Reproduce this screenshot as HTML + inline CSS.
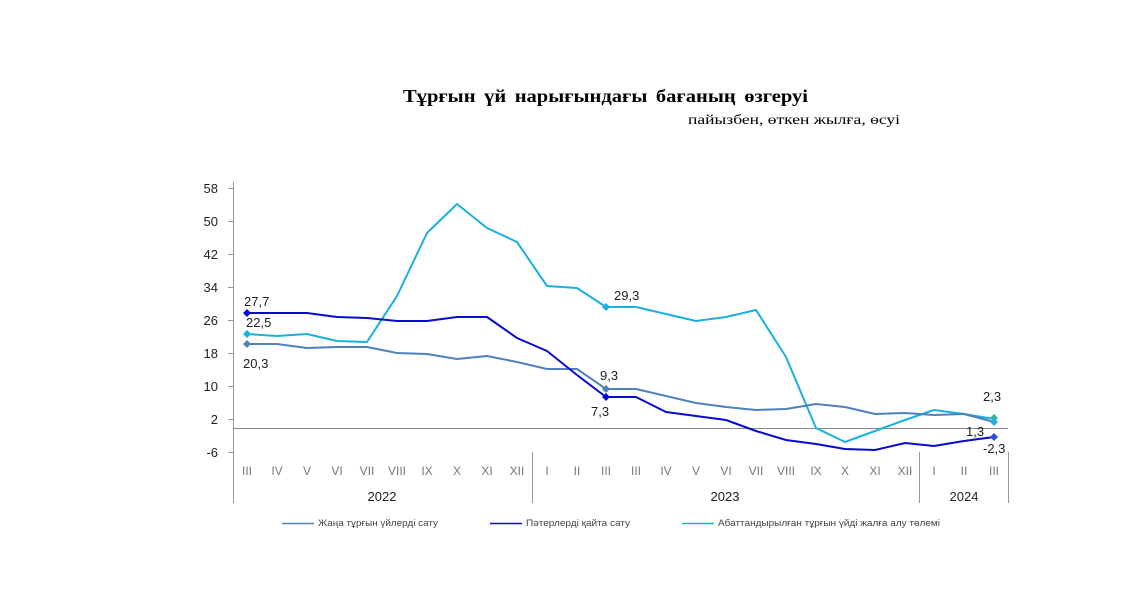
<!DOCTYPE html>
<html><head><meta charset="utf-8"><style>
body{margin:0;background:#fff;}
svg{display:block}
</style></head><body>
<svg width="1144" height="610" viewBox="0 0 1144 610" xmlns="http://www.w3.org/2000/svg">
<rect width="1144" height="610" fill="#fff"/>
<text x="403" y="102" font-family="Liberation Serif, serif" font-weight="bold" font-size="18" word-spacing="3" textLength="405" lengthAdjust="spacingAndGlyphs">Тұрғын үй нарығындағы бағаның өзгеруі</text>
<text x="688" y="124" font-family="Liberation Serif, serif" font-size="14" textLength="212" lengthAdjust="spacingAndGlyphs">пайызбен, өткен жылға, өсуі</text>
<g stroke="#999" stroke-width="1" fill="none">
<line x1="233.5" y1="182" x2="233.5" y2="503"/>
<line x1="233" y1="428.5" x2="1008" y2="428.5" stroke="#888"/>
<line x1="532.5" y1="452" x2="532.5" y2="503"/>
<line x1="919.5" y1="452" x2="919.5" y2="503"/>
<line x1="1008.5" y1="452" x2="1008.5" y2="503"/>
<path d="M228 188.5H233M228 221.5H233M228 254.5H233M228 287.5H233M228 320.5H233M228 353.5H233M228 386.5H233M228 419.5H233M228 452.5H233"/>
</g>
<g font-family="Liberation Sans, DejaVu Sans, sans-serif" font-size="13" fill="#222" text-anchor="end">
<text x="218" y="193">58</text><text x="218" y="226">50</text><text x="218" y="259">42</text><text x="218" y="292">34</text><text x="218" y="325">26</text><text x="218" y="358">18</text><text x="218" y="391">10</text><text x="218" y="424">2</text><text x="218" y="457">-6</text>
</g>
<g font-family="Liberation Sans, DejaVu Sans, sans-serif" font-size="12" fill="#777" text-anchor="middle">
<text x="247" y="475">III</text><text x="277" y="475">IV</text><text x="307" y="475">V</text><text x="337" y="475">VI</text><text x="367" y="475">VII</text><text x="397" y="475">VIII</text><text x="427" y="475">IX</text><text x="457" y="475">X</text><text x="487" y="475">XI</text><text x="517" y="475">XII</text><text x="547" y="475">I</text><text x="577" y="475">II</text><text x="606" y="475">III</text><text x="636" y="475">III</text><text x="666" y="475">IV</text><text x="696" y="475">V</text><text x="726" y="475">VI</text><text x="756" y="475">VII</text><text x="786" y="475">VIII</text><text x="816" y="475">IX</text><text x="845" y="475">X</text><text x="875" y="475">XI</text><text x="905" y="475">XII</text><text x="934" y="475">I</text><text x="964" y="475">II</text><text x="994" y="475">III</text>
</g>
<g font-family="Liberation Sans, DejaVu Sans, sans-serif" font-size="13" fill="#222" text-anchor="middle">
<text x="382" y="501">2022</text><text x="725" y="501">2023</text><text x="964" y="501">2024</text>
</g>
<g fill="none" stroke-width="2" stroke-linejoin="round">
<polyline stroke="#1ab0e0" points="247,334 277,336 307,334 337,341 367,342 397,296 427,233 457,204 487,228 517,242 547,286 577,288 606,307 636,307 666,314 696,321 726,317 756,310 786,357 816,428 845,442 875,431 905,420 934,410 964,414 994,419"/>
<polyline stroke="#4f81bd" points="247,344 277,344 307,348 337,347 367,347 397,353 427,354 457,359 487,356 517,362 547,369 577,369 606,389 636,389 666,396 696,403 726,407 756,410 786,409 816,404 845,407 875,414 905,413 934,415 964,414 994,422"/>
<polyline stroke="#0a0ad0" points="247,313 277,313 307,313 337,317 367,318 397,321 427,321 457,317 487,317 517,338 547,351 577,375 606,397 636,397 666,412 696,416 726,420 756,431 786,440 816,444 845,449 875,450 905,443 934,446 964,441 994,437"/>
</g>
<g>
<path d="M247 309l4 4-4 4-4-4z" fill="#0a0ad0"/>
<path d="M247 330l4 4-4 4-4-4z" fill="#1ab0e0"/>
<path d="M247 340l4 4-4 4-4-4z" fill="#4f81bd"/>
<path d="M606 303l4 4-4 4-4-4z" fill="#1ab0e0"/>
<path d="M606 385l4 4-4 4-4-4z" fill="#4f81bd"/>
<path d="M606 393l4 4-4 4-4-4z" fill="#0a0ad0"/>
<path d="M994 414l4 4-4 4-4-4z" fill="#3bb0a0"/>
<path d="M994 418l4 4-4 4-4-4z" fill="#1ab0e0"/>
<path d="M994 433l4 4-4 4-4-4z" fill="#2a50d0"/>
</g>
<g font-family="Liberation Sans, DejaVu Sans, sans-serif" font-size="13" fill="#222">
<text x="244" y="306">27,7</text><text x="246" y="327">22,5</text><text x="243" y="368">20,3</text>
<text x="614" y="300">29,3</text><text x="600" y="380">9,3</text><text x="591" y="416">7,3</text>
<text x="983" y="401">2,3</text><text x="966" y="436">1,3</text><text x="983" y="453">-2,3</text>
</g>
<g font-family="Liberation Sans, DejaVu Sans, sans-serif" font-size="9" fill="#444">
<line x1="282" y1="523.5" x2="314" y2="523.5" stroke="#4f81bd" stroke-width="1.5"/><text x="318" y="526" textLength="120" lengthAdjust="spacingAndGlyphs">Жаңа тұрғын үйлерді сату</text>
<line x1="490" y1="523.5" x2="522" y2="523.5" stroke="#0a0ad0" stroke-width="1.5"/><text x="526" y="526" textLength="104" lengthAdjust="spacingAndGlyphs">Пәтерлерді қайта сату</text>
<line x1="682" y1="523.5" x2="714" y2="523.5" stroke="#1ab0e0" stroke-width="1.5"/><text x="718" y="526" textLength="222" lengthAdjust="spacingAndGlyphs">Абаттандырылған тұрғын үйді жалға алу төлемі</text>
</g>
</svg>
</body></html>
